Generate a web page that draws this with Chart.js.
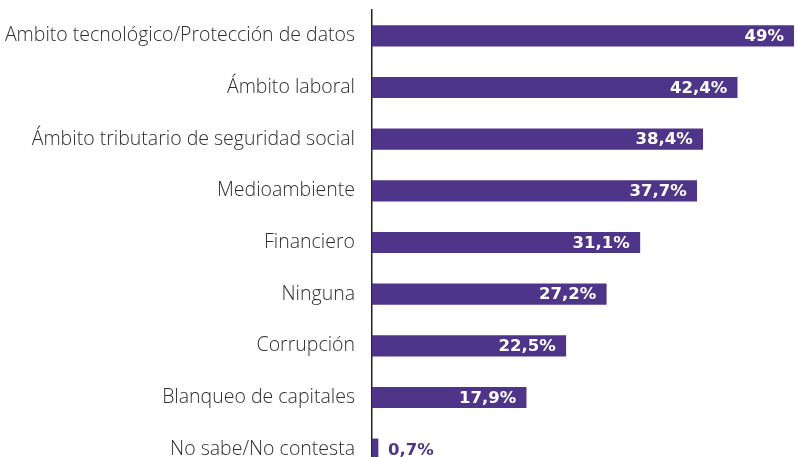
<!DOCTYPE html>
<html>
<head>
<meta charset="utf-8">
<script src="https://cdn.jsdelivr.net/npm/chart.js@4.4.1/dist/chart.umd.min.js"></script>
<style>
  html, body { margin:0; padding:0; background:#fff; overflow:hidden; }
  #wrap { width:795px; height:480px; }
</style>
</head>
<body>
<div id="wrap"><canvas id="chart" width="795" height="480"></canvas></div>
<script>
// ── Data ─────────────────────────────────────────────────────────────────────
const CATEGORIES = [
  "Ambito tecnológico/Protección de datos",
  "Ámbito laboral",
  "Ámbito tributario de seguridad social",
  "Medioambiente",
  "Financiero",
  "Ninguna",
  "Corrupción",
  "Blanqueo de capitales",
  "No sabe/No contesta",
];
const VALUES = [49, 42.4, 38.4, 37.7, 31.1, 27.2, 22.5, 17.9, 0.7];

const BAR_COLOR = "#4f3589";

// value labels at the bar end (inside, white) or just outside when the bar is tiny
const valueLabels = {
  id: "valueLabels",
  afterDatasetsDraw(chart) {
    const { ctx } = chart;
    const meta = chart.getDatasetMeta(0);
    ctx.save();
    ctx.font = "bold 16.5px 'DejaVu Sans', sans-serif";
    ctx.textBaseline = "middle";
    meta.data.forEach((bar, i) => {
      const txt = String(VALUES[i]).replace(".", ",") + "%";
      if (bar.x - bar.base > 40) {
        ctx.fillStyle = "#ffffff";
        ctx.textAlign = "right";
        ctx.fillText(txt, bar.x - 10, bar.y + 1);
      } else {
        ctx.fillStyle = BAR_COLOR;
        ctx.textAlign = "left";
        ctx.fillText(txt, bar.x + 10, bar.y + 2);
      }
    });
    ctx.restore();
  }
};

new Chart(document.getElementById("chart").getContext("2d"), {
  type: "bar",
  data: {
    labels: CATEGORIES,
    datasets: [{ data: VALUES, backgroundColor: BAR_COLOR, barThickness: 20.5, borderWidth: 0 }]
  },
  options: {
    indexAxis: "y",
    responsive: false,
    animation: false,
    layout: { padding: { top: 10, right: 1, bottom: 5, left: 0 } },
    plugins: { legend: { display: false }, tooltip: { enabled: false } },
    scales: {
      x: { display: false, min: 0, max: 49 },
      y: {
        grid: { display: false, drawTicks: false },
        border: { display: true, color: "#222", width: 1.5 },
        ticks: { color: "#2e2e2e", padding: 17, font: { family: "'Open Sans', sans-serif", size: 19.5, weight: "300" } },
        afterFit(scale) { scale.width = 372; scale.paddingTop = 0; scale.paddingBottom = 0; }
      }
    }
  },
  plugins: [valueLabels]
});
</script>
</body>
</html>
